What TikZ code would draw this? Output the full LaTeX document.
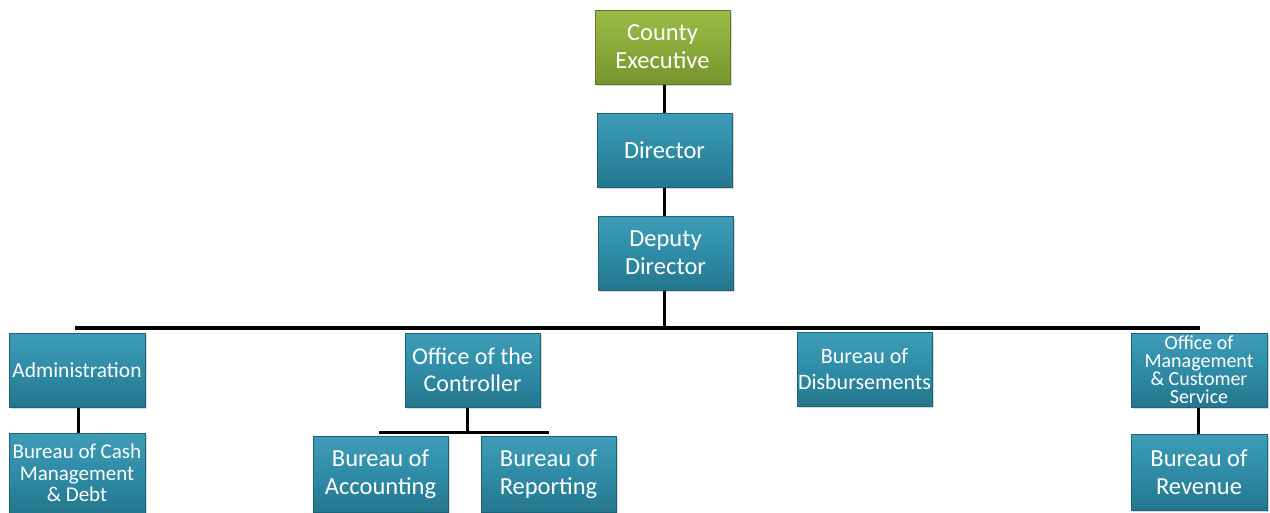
\documentclass[tikz,border=0pt]{standalone}
\usepackage{fontspec}
\setmainfont{Carlito}
\usetikzlibrary{shadows}
\definecolor{tealmid}{HTML}{2F8CA6}
\definecolor{teallight}{HTML}{3E9CB6}
\definecolor{tealdark}{HTML}{24768D}
\definecolor{tealedge}{HTML}{1E6478}
\definecolor{greenmid}{HTML}{8AAA3A}
\definecolor{greenlight}{HTML}{9BBB48}
\definecolor{greendark}{HTML}{76942C}
\definecolor{greenedge}{HTML}{607A22}
\tikzset{
  box/.style={draw=tealedge, line width=1pt, top color=teallight, bottom color=tealdark,
    middle color=tealmid, text=white, minimum width=135pt, minimum height=74pt,
    inner sep=1pt, align=center, font=\fontsize{24.5}{28}\selectfont,
    drop shadow={opacity=0.3, shadow xshift=1.5pt, shadow yshift=-1.5pt}},
  gbox/.style={box, draw=greenedge, top color=greenlight, bottom color=greendark, middle color=greenmid},
  conn/.style={line width=3pt, black},
  busline/.style={line width=3.5pt, black}
}
\begin{document}
\begin{tikzpicture}[x=1pt,y=-1pt]
\useasboundingbox (0,0) rectangle (1270,512);
\clip (0,0) rectangle (1270,512);
\node[gbox] (ce) at (662.5,47) {County\\Executive};
\node[box] (dir) at (664.5,150) {Director};
\node[box] (dep) at (665.5,253) {Deputy\\Director};
\node[box, minimum width=136pt, font=\fontsize{21.5}{25}\selectfont] (adm) at (77,370) {Administration};
\node[box, minimum width=136pt, minimum height=80pt, font=\fontsize{21}{21.5}\selectfont] (cash) at (77,473) {Bureau of Cash\\Management\\\& Debt};
\node[box, font=\fontsize{24}{27}\selectfont] (ctrl) at (472.5,370) {Office of the\\Controller};
\node[box, minimum height=76pt] (acc) at (380.5,474) {Bureau of\\Accounting};
\node[box, minimum height=76pt] (rep) at (548.5,474) {Bureau of\\Reporting};
\node[box, font=\fontsize{22}{26}\selectfont] (dis) at (864.5,369.5) {Bureau of\\Disbursements};
\node[box, minimum width=136pt, font=\fontsize{20}{18}\selectfont] (omc) at (1199,370) {Office of\\Management\\\& Customer\\Service};
\node[box, minimum width=136pt, minimum height=76pt] (rev) at (1199,472) {Bureau of\\Revenue};
\coordinate (busL) at (75,328);
\coordinate (busR) at (1200,328);
\coordinate (busM) at (664,328);
\coordinate (subL) at (379,432);
\coordinate (subR) at (549,432);
\coordinate (subM) at (467,432);
\draw[conn] (ce.south -| busM) -- (dir.north -| busM);
\draw[conn] (dir.south -| busM) -- (dep.north -| busM);
\draw[conn] (dep.south -| busM) -- (busM);
\draw[busline] (busL) -- (busR);
\draw[conn] (adm.south -| 78,0) -- (cash.north -| 78,0);
\draw[conn] (ctrl.south -| subM) -- (subM);
\draw[conn] (subL) -- (subR);
\draw[conn] (omc.south -| 1198,0) -- (rev.north -| 1198,0);
\end{tikzpicture}
\end{document}
